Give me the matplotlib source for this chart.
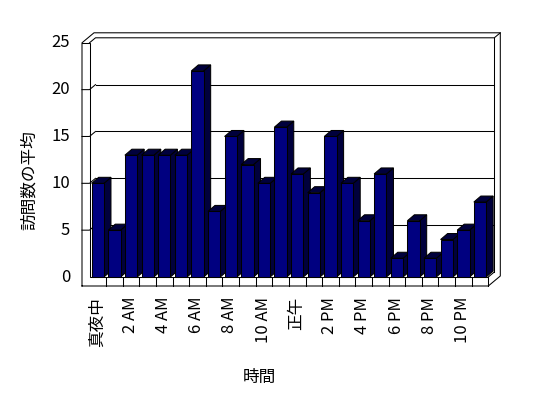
import matplotlib.pyplot as plt
from matplotlib.patches import Polygon

plt.rcParams['font.family'] = ['Noto Sans CJK JP', 'DejaVu Sans']

# data
hours = ['真夜中', '', '2 AM', '', '4 AM', '', '6 AM', '', '8 AM', '', '10 AM', '',
         '正午', '', '2 PM', '', '4 PM', '', '6 PM', '', '8 PM', '', '10 PM', '']
visits = [10, 5, 13, 13, 13, 13, 22, 7, 15, 12, 10, 16,
          11, 9, 15, 10, 6, 11, 2, 6, 2, 4, 5, 8]
y_ticks = [0, 5, 10, 15, 20, 25]

n = len(visits)
ymax = y_ticks[-1]

fig = plt.figure(figsize=(5.48, 3.98), dpi=100)
ax = fig.add_axes([89.5 / 548, (398 - 277) / 398, (488.3 - 89.5) / 548, (277 - 42.8) / 398])
ax.set_xlim(0, n)
ax.set_ylim(0, ymax)
ax.axis('off')

# pixel sizes of the fake 3d box, turned into data units
sx = (488.3 - 89.5) / n
sy = (277 - 42.8) / ymax
wx, wy = 6 / sx, 5 / sy   # depth to back wall
tx, ty = 6 / sx, 5 / sy   # wall thickness
bx, by = 7 / sx, 6 / sy   # bar depth
lt = 7.5 / sx             # left wall front face
ft = 9 / sy               # floor thickness

kw = dict(color='black', lw=0.75, clip_on=False, zorder=1, solid_joinstyle='miter')


def line(xs, ys):
    ax.plot(xs, ys, **kw)


# gridlines on back wall and left wall
for v in y_ticks[1:-1]:
    line([wx, n + wx], [v + wy, v + wy])
    line([-lt, 0, wx], [v, v, v + wy])

# outline of walls and floor
line([-lt, -lt, -lt + wx + tx, n + wx + tx, n + wx + tx, n, -lt],
     [-ft, ymax, ymax + wy + ty, ymax + wy + ty, -ft + wy + ty, -ft, -ft])
line([-lt, 0, 0, n, n], [ymax, ymax, 0, 0, -ft])
line([0, wx, n + wx, n + wx + tx], [ymax, ymax + wy, ymax + wy, ymax + wy + ty])
line([n + wx, n + wx], [ymax + wy, wy])
line([n, n + wx], [0, wy])
for i in range(1, n):
    line([i, i], [0, -ft])

# bars
b0, b1 = 0.13, 0.87
front = '#000080'
shade = '#00003c'
for i, v in enumerate(visits):
    x0, x1 = i + b0, i + b1
    side = [(x1, 0), (x1 + bx, by), (x1 + bx, v + by), (x1, v)]
    top = [(x0, v), (x1, v), (x1 + bx, v + by), (x0 + bx, v + by)]
    face = [(x0, 0), (x1, 0), (x1, v), (x0, v)]
    for pts, c in [(side, shade), (top, shade), (face, front)]:
        ax.add_patch(Polygon(pts, closed=True, facecolor=c, edgecolor='black',
                             lw=0.75, joinstyle='miter', clip_on=False, zorder=2))

# tick labels
for v in y_ticks:
    ax.text(-lt - 0.72, v, str(v), ha='right', va='center', fontsize=12)
for i, lab in enumerate(hours):
    if lab:
        ax.text(i + 0.45, -ft - 1.15, lab, rotation=90, ha='center', va='top', fontsize=12)

fig.text(259 / 548, 1 - 377 / 398, '時間', ha='center', va='center', fontsize=12)
fig.text(29 / 548, 1 - 180 / 398, '訪問数の平均', rotation=90, ha='center', va='center', fontsize=12)

fig.savefig('out.png', dpi=100)
